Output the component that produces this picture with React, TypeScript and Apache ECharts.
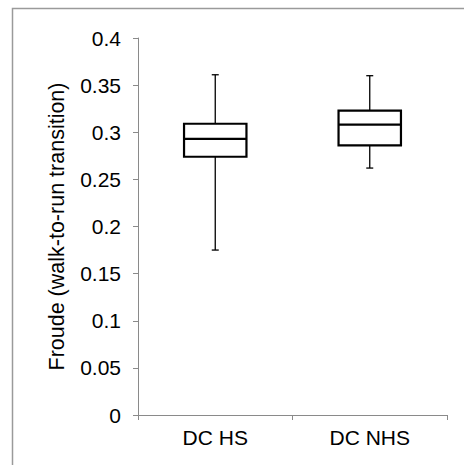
import React, { useEffect, useRef } from "react";
import * as echarts from "echarts";

const categories = ["DC HS", "DC NHS"];
const whiskerLow = [0.175, 0.262];
const quartile1 = [0.274, 0.286];
const medians = [0.293, 0.308];
const quartile3 = [0.309, 0.323];
const whiskerHigh = [0.361, 0.36];
const yTicks = [0, 0.05, 0.1, 0.15, 0.2, 0.25, 0.3, 0.35, 0.4];

export default function App() {
  const ref = useRef<HTMLDivElement>(null);
  useEffect(() => {
    if (!ref.current) return;
    const chart = echarts.init(ref.current, null, { renderer: "svg" });
    const data = categories.map((c, i) => [
      i,
      whiskerLow[i],
      quartile1[i],
      medians[i],
      quartile3[i],
      whiskerHigh[i],
    ]);
    const font = "'Liberation Sans', Arial, sans-serif";
    chart.setOption({
      animation: false,
      backgroundColor: "#ffffff",
      graphic: [
        {
          type: "rect",
          shape: { x: 12.5, y: 8.5, width: 600, height: 600 },
          style: { fill: "none", stroke: "#9a9a9a", lineWidth: 1.5 },
          silent: true,
        },
      ],
      grid: { left: 138, right: 17, top: 38, bottom: 50 },
      xAxis: {
        type: "category",
        data: categories,
        boundaryGap: true,
        axisLine: { lineStyle: { color: "#8a8a8a", width: 1 } },
        axisTick: { show: true, length: 5, lineStyle: { color: "#8a8a8a" } },
        axisLabel: { color: "#000", fontSize: 21, fontFamily: font, margin: 12 },
        splitLine: { show: false },
      },
      yAxis: {
        type: "value",
        min: yTicks[0],
        max: yTicks[yTicks.length - 1],
        interval: 0.05,
        name: "Froude (walk-to-run transition)",
        nameLocation: "middle",
        nameGap: 70,
        nameTextStyle: { color: "#000", fontSize: 21.5, fontFamily: font },
        axisLine: { show: true, lineStyle: { color: "#8a8a8a", width: 1 } },
        axisTick: { show: true, length: 5, lineStyle: { color: "#8a8a8a" } },
        axisLabel: {
          color: "#000",
          fontSize: 21,
          fontFamily: font,
          margin: 17,
          formatter: (v: number) => String(parseFloat(v.toFixed(2))),
        },
        splitLine: { show: false },
      },
      series: [
        {
          type: "custom",
          data,
          encode: { x: 0, y: [1, 2, 3, 4, 5] },
          renderItem: (params: any, api: any) => {
            const x = api.value(0);
            const pLow = api.coord([x, api.value(1)]);
            const pQ1 = api.coord([x, api.value(2)]);
            const pMed = api.coord([x, api.value(3)]);
            const pQ3 = api.coord([x, api.value(4)]);
            const pHigh = api.coord([x, api.value(5)]);
            const bw = api.size([1, 0])[0] * 0.404;
            const cx = pMed[0];
            const cap = 3.5;
            const thin = { stroke: "#000", lineWidth: 1.3, fill: "none" };
            const thick = { stroke: "#000", lineWidth: 2.2, fill: "none" };
            return {
              type: "group",
              children: [
                { type: "line", shape: { x1: cx, y1: pHigh[1], x2: cx, y2: pQ3[1] }, style: thin },
                { type: "line", shape: { x1: cx, y1: pQ1[1], x2: cx, y2: pLow[1] }, style: thin },
                { type: "line", shape: { x1: cx - cap, y1: pHigh[1], x2: cx + cap, y2: pHigh[1] }, style: thin },
                { type: "line", shape: { x1: cx - cap, y1: pLow[1], x2: cx + cap, y2: pLow[1] }, style: thin },
                {
                  type: "rect",
                  shape: { x: cx - bw / 2, y: pQ3[1], width: bw, height: pQ1[1] - pQ3[1] },
                  style: { ...thick, fill: "#fff" },
                },
                { type: "line", shape: { x1: cx - bw / 2, y1: pMed[1], x2: cx + bw / 2, y2: pMed[1] }, style: thick },
              ],
            };
          },
        },
      ],
    });
    return () => chart.dispose();
  }, []);
  return (
    <div
      ref={ref}
      style={{ position: "fixed", left: 0, top: 0, width: 464, height: 465 }}
    />
  );
}
